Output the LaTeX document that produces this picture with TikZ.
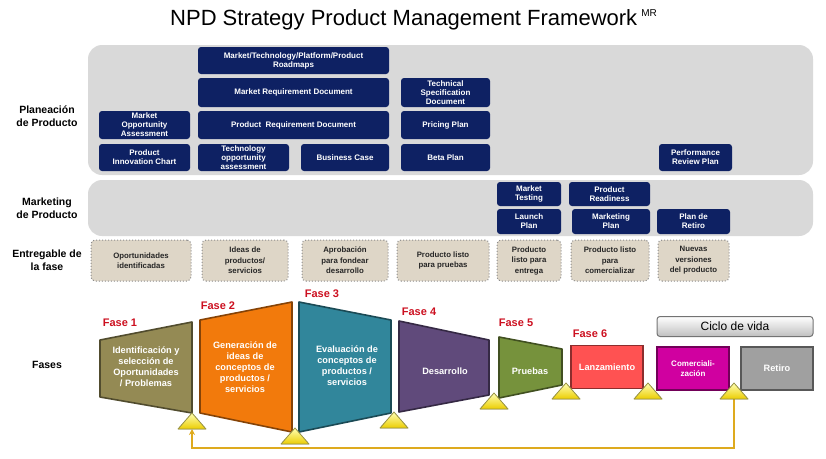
\documentclass[tikz,border=0pt]{standalone}
\usepackage{fontspec}
\setmainfont{Liberation Sans}
\usetikzlibrary{arrows.meta}
\definecolor{planblue}{RGB}{14,33,99}
\definecolor{panelgray}{RGB}{217,217,217}
\definecolor{delivbeige}{RGB}{222,214,199}
\definecolor{faseolive}{RGB}{148,138,84}
\definecolor{faseorange}{RGB}{242,122,12}
\definecolor{faseteal}{RGB}{49,134,155}
\definecolor{fasepurple}{RGB}{96,74,123}
\definecolor{fasegreen}{RGB}{118,146,60}
\definecolor{faselanz}{RGB}{255,82,82}
\definecolor{fasecom}{RGB}{208,0,160}
\definecolor{faseret}{RGB}{160,160,160}
\definecolor{fasered}{RGB}{204,16,32}
\definecolor{loopgold}{RGB}{222,170,30}
\definecolor{triyellow}{RGB}{235,205,0}

\begin{document}
\begin{tikzpicture}[x=1pt, y=-1pt,
		every node/.style={align=center, inner sep=0pt},
		panel/.style={fill=panelgray, rounded corners=14pt},
		plan/.style={fill=planblue, text=white, rounded corners=3pt, font=\bfseries\fontsize{8}{9}\selectfont},
		deliv/.style={fill=delivbeige, draw=black!45, dotted, line width=1pt, rounded corners=4pt,
			text=black!85, font=\bfseries\fontsize{7.8}{10.5}\selectfont},
		rowlabel/.style={font=\bfseries\fontsize{10.5}{13}\selectfont},
		faselabel/.style={text=fasered, font=\bfseries\fontsize{11}{13}\selectfont},
		phase/.style={line width=1.6pt, line join=round},
		phasetext/.style={text=white, font=\bfseries\fontsize{9.2}{11}\selectfont},
		stage/.style={phasetext, line width=1.6pt, minimum width=72pt, minimum height=43pt},
		ciclo/.style={top color=white, bottom color=black!25, draw=black!55, line width=1pt,
			rounded corners=3pt, minimum width=156pt, minimum height=20pt, font=\fontsize{12}{14}\selectfont},
		tri/.style={top color=yellow!30!white, bottom color=triyellow, draw=black!45!yellow,
			line width=0.8pt, line join=round},
		loopback/.style={draw=loopgold, line width=1.8pt, -{Stealth[length=6pt, width=6pt]}}]
		
		\useasboundingbox (0,0) rectangle (826,458);
		\node (title) [anchor=base west, font=\fontsize{22}{24}\selectfont] at (170,25.5)
			{NPD Strategy Product Management Framework\hspace{4pt}\raisebox{9pt}{\fontsize{10}{10}\selectfont MR}};
		
		\fill[panel] (88,45) rectangle (813,175);
		\fill[panel] (88,180) rectangle (813,236);
		
		\node[rowlabel] (planeacion) at (47,116) {Planeación\\de Producto};
		\node[rowlabel] (marketing) at (47,208) {Marketing\\de Producto};
		\node[rowlabel] (entregable) at (47,260) {Entregable de\\la fase};
		\node[rowlabel] (fases) at (47,365) {Fases};
		
		\node[plan, minimum width=191pt, minimum height=27pt] (roadmaps) at (293.5,60.5) {Market/Technology/Platform/Product\\Roadmaps};
		\node[plan, minimum width=191pt, minimum height=29pt] (mrd) at (293.5,92.5) {Market Requirement Document};
		\node[plan, minimum width=191pt, minimum height=28pt] (prd) at (293.5,125) {Product~~Requirement Document};
		\node[plan, minimum width=91pt, minimum height=28pt] (moa) at (144.5,125) {Market\\Opportunity\\Assessment};
		\node[plan, minimum width=91pt, minimum height=27pt] (pic) at (144.5,157.5) {Product\\Innovation Chart};
		\node[plan, minimum width=91pt, minimum height=27pt] (toa) at (243.5,157.5) {Technology\\opportunity\\assessment};
		\node[plan, minimum width=88pt, minimum height=27pt] (bcase) at (345,157.5) {Business Case};
		\node[plan, minimum width=89pt, minimum height=29pt] (tsd) at (445.5,92.5) {Technical\\Specification\\Document};
		\node[plan, minimum width=89pt, minimum height=28pt] (pricing) at (445.5,125) {Pricing Plan};
		\node[plan, minimum width=89pt, minimum height=27pt] (beta) at (445.5,157.5) {Beta Plan};
		\node[plan, minimum width=73pt, minimum height=27pt] (review) at (695.5,157.5) {Performance\\Review Plan};
		
		\node[plan, minimum width=64pt, minimum height=24pt] (mtest) at (529,194) {Market\\Testing};
		\node[plan, minimum width=81pt, minimum height=24pt] (ready) at (609.5,194) {Product\\Readiness};
		\node[plan, minimum width=64pt, minimum height=25pt] (launch) at (529,221.5) {Launch\\Plan};
		\node[plan, minimum width=78pt, minimum height=25pt] (mplan) at (611,221.5) {Marketing\\Plan};
		\node[plan, minimum width=73pt, minimum height=25pt] (retplan) at (693.5,221.5) {Plan de\\Retiro};
		
		\node[deliv, minimum width=100pt, minimum height=41pt] (d1) at (141,260.5) {Oportunidades\\identificadas};
		\node[deliv, minimum width=86pt, minimum height=41pt] (d2) at (245,260.5) {Ideas de\\productos/\\servicios};
		\node[deliv, minimum width=86pt, minimum height=41pt] (d3) at (345,260.5) {Aprobación\\para fondear\\desarrollo};
		\node[deliv, minimum width=92pt, minimum height=41pt] (d4) at (443,260.5) {Producto listo\\para pruebas};
		\node[deliv, minimum width=64pt, minimum height=41pt] (d5) at (529,260.5) {Producto\\listo para\\entrega};
		\node[deliv, minimum width=78pt, minimum height=41pt] (d6) at (610,260.5) {Producto listo\\para\\comercializar};
		\node[deliv, minimum width=71pt, minimum height=41pt] (d7) at (693.5,260.5) {Nuevas\\versiones\\del producto};
		
		\node[faselabel] (f1) at (120,323) {Fase 1};
		\node[faselabel] (f2) at (218,306) {Fase 2};
		\node[faselabel] (f3) at (322,294) {Fase 3};
		\node[faselabel] (f4) at (419,312) {Fase 4};
		\node[faselabel] (f5) at (516,323) {Fase 5};
		\node[faselabel] (f6) at (590,334) {Fase 6};
		
		\filldraw[phase, fill=faseolive, draw=faseolive!55!black] (100,340) -- (192,322) -- (192,413) -- (100,397) -- cycle;
		\filldraw[phase, fill=faseorange, draw=faseorange!55!black] (200,320) -- (292,302) -- (292,432) -- (200,413) -- cycle;
		\filldraw[phase, fill=faseteal, draw=faseteal!55!black] (299,302) -- (391,320) -- (391,413) -- (299,432) -- cycle;
		\filldraw[phase, fill=fasepurple, draw=fasepurple!55!black] (399,321) -- (489,340) -- (489,395) -- (399,412) -- cycle;
		\filldraw[phase, fill=fasegreen, draw=fasegreen!55!black] (499,337) -- (562,349) -- (562,385) -- (499,398) -- cycle;
		
		\node[phasetext] (p1) at (146,367) {Identificación y\\selección de\\Oportunidades\\/ Problemas};
		\node[phasetext] (p2) at (245,367) {Generación de\\ideas de\\conceptos de\\productos /\\servicios};
		\node[phasetext] (p3) at (347,366) {Evaluación de\\conceptos de\\productos /\\servicios};
		\node[phasetext] (p4) at (445,371) {Desarrollo};
		\node[phasetext] (p5) at (530,371) {Pruebas};
		\node[stage, fill=faselanz, draw=faselanz!55!black] (lanz) at (607,367) {Lanzamiento};
		\node[stage, fill=fasecom, draw=fasecom!55!black, font=\bfseries\fontsize{8}{10}\selectfont] (comer) at (693,368.5) {Comerciali-\\zación};
		\node[stage, fill=faseret, draw=faseret!55!black] (retiro) at (777,368.5) {Retiro};
		\node[ciclo] (vida) at (735,326.5) {Ciclo de vida};
		
		\coordinate (low) at (450,448);
		\foreach \n/\x/\y in {1/192/413, 2/295/428, 3/394/412, 4/494/393, 5/566/383, 6/648/383, 7/734/383} {
			\coordinate (t\n) at (\x,\y+16);
		}
		\draw[loopback] (t7) -- (t7 |- low) -| (t1);
		\foreach \n/\x/\y in {1/192/413, 2/295/428, 3/394/412, 4/494/393, 5/566/383, 6/648/383, 7/734/383} {
			\filldraw[tri] (\x,\y) -- (\x+14,\y+16) -- (\x-14,\y+16) -- cycle;
		}
	\end{tikzpicture}
\end{document}
